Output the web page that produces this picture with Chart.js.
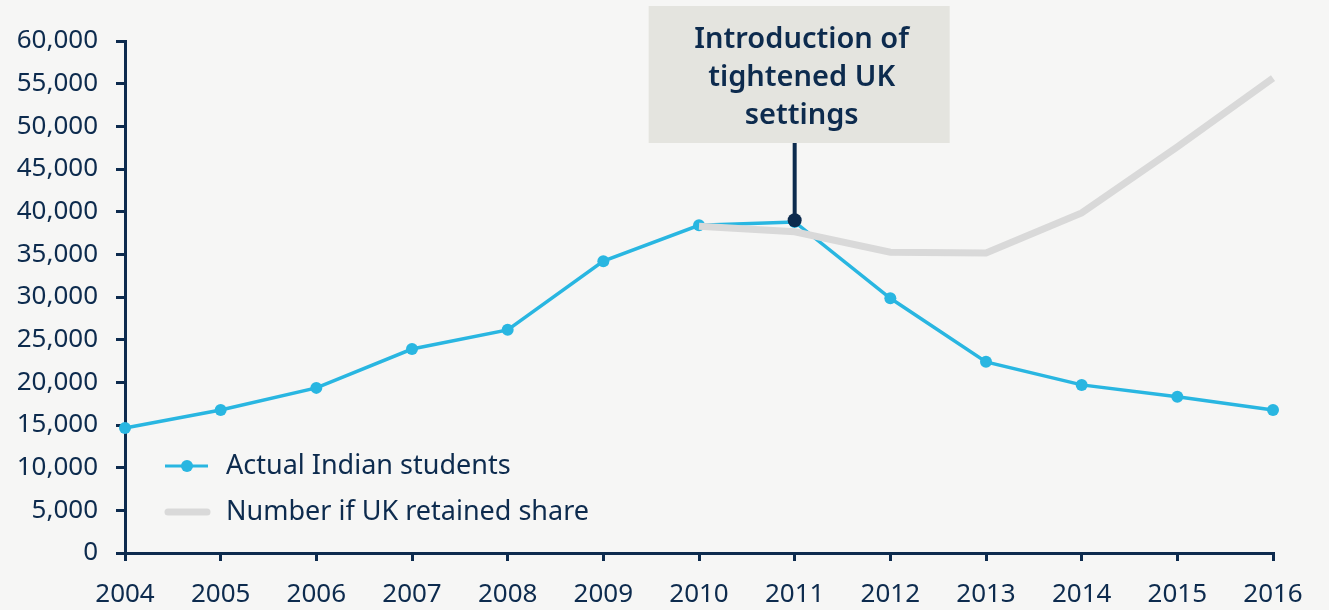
<!DOCTYPE html>
<html lang="en">
<head>
    <meta charset="UTF-8" />
    <title>Indian students in the UK</title>
    <style>
        html, body {
            margin: 0;
            padding: 0;
            background: #f6f6f5;
            overflow: hidden;
        }
        canvas {
            display: block;
        }
    </style>
    <script src="https://cdn.jsdelivr.net/npm/chart.js"></script>
</head>
<body>
    <canvas id="students-chart" width="1329" height="610"></canvas>
    <script>
        const years = ['2004', '2005', '2006', '2007', '2008', '2009', '2010', '2011', '2012', '2013', '2014', '2015', '2016'];
        const actualStudents = [14650, 16750, 19350, 23900, 26150, 34200, 38400, 38800, 29850, 22400, 19700, 18300, 16750];
        const retainedShare = [null, null, null, null, null, null, 38300, 37650, 35250, 35150, 39850, 47600, 55650];
        const yTicks = [0, 5000, 10000, 15000, 20000, 25000, 30000, 35000, 40000, 45000, 50000, 55000, 60000];
        const legendLabels = ['Actual Indian students', 'Number if UK retained share'];
        const noteLines = ['Introduction of', 'tightened UK', 'settings'];
        const noteYear = '2011';
        const noteValue = 39000;

        const navy = '#0d2b4e';
        const blue = '#29b6e1';
        const grey = '#d9d9d9';
        const fontName = "'Noto Sans', sans-serif";

        // callout box + pin, and the legend inside the plot
        const extras = {
            id: 'extras',
            afterDatasetsDraw(chart) {
                const ctx = chart.ctx;
                const area = chart.chartArea;
                const x = chart.scales.x.getPixelForValue(years.indexOf(noteYear));
                const y = chart.scales.y.getPixelForValue(noteValue);

                ctx.save();
                ctx.fillStyle = '#e4e4df';
                ctx.fillRect(x - 146, 6, 301, 137);
                ctx.strokeStyle = navy;
                ctx.lineWidth = 4;
                ctx.beginPath();
                ctx.moveTo(x, 143);
                ctx.lineTo(x, y);
                ctx.stroke();
                ctx.fillStyle = navy;
                ctx.beginPath();
                ctx.arc(x, y, 7, 0, Math.PI * 2);
                ctx.fill();

                ctx.font = '600 29px ' + fontName;
                ctx.textAlign = 'center';
                ctx.textBaseline = 'middle';
                noteLines.forEach((line, i) => {
                    ctx.fillText(line, x + 7, 40 + i * 38);
                });

                // legend
                const lx = area.left + 40;
                const rows = [area.bottom - 87, area.bottom - 41];
                ctx.lineCap = 'butt';
                ctx.strokeStyle = blue;
                ctx.lineWidth = 3;
                ctx.beginPath();
                ctx.moveTo(lx, rows[0]);
                ctx.lineTo(lx + 43, rows[0]);
                ctx.stroke();
                ctx.fillStyle = blue;
                ctx.beginPath();
                ctx.arc(lx + 22, rows[0], 6, 0, Math.PI * 2);
                ctx.fill();
                ctx.strokeStyle = grey;
                ctx.lineWidth = 7;
                ctx.lineCap = 'round';
                ctx.beginPath();
                ctx.moveTo(lx + 3, rows[1]);
                ctx.lineTo(lx + 42, rows[1]);
                ctx.stroke();

                ctx.fillStyle = navy;
                ctx.font = '27px ' + fontName;
                ctx.textAlign = 'left';
                legendLabels.forEach((label, i) => {
                    ctx.fillText(label, lx + 61, rows[i]);
                });
                ctx.restore();
            }
        };

        window.onload = function() {
            const ctx = document.getElementById('students-chart').getContext('2d');
            new Chart(ctx, {
                type: 'line',
                data: {
                    labels: years,
                    datasets: [
                        {
                            label: legendLabels[1],
                            data: retainedShare,
                            borderColor: grey,
                            borderWidth: 7,
                            pointRadius: 0,
                            pointHoverRadius: 0,
                            tension: 0,
                            clip: false,
                            order: 0
                        },
                        {
                            label: legendLabels[0],
                            data: actualStudents,
                            borderColor: blue,
                            backgroundColor: blue,
                            borderWidth: 3.5,
                            pointRadius: 6,
                            pointBorderWidth: 0,
                            pointBackgroundColor: blue,
                            tension: 0,
                            clip: false,
                            order: 1
                        }
                    ]
                },
                options: {
                    responsive: false,
                    animation: false,
                    events: [],
                    layout: {
                        padding: { top: 41, right: 56, left: 0, bottom: 0 }
                    },
                    plugins: {
                        legend: { display: false },
                        tooltip: { enabled: false }
                    },
                    scales: {
                        x: {
                            offset: false,
                            grid: {
                                drawOnChartArea: false,
                                drawTicks: true,
                                tickLength: 8,
                                color: navy,
                                lineWidth: 3
                            },
                            border: { color: navy, width: 3 },
                            ticks: {
                                color: navy,
                                font: { family: fontName, size: 26 },
                                padding: 18,
                                maxRotation: 0,
                                autoSkip: false
                            },
                            afterFit(scale) { scale.height = 57; }
                        },
                        y: {
                            min: 0,
                            max: 60000,
                            afterBuildTicks(scale) {
                                scale.ticks = yTicks.map(v => ({ value: v }));
                            },
                            grid: {
                                drawOnChartArea: false,
                                drawTicks: true,
                                tickLength: 9,
                                color: navy,
                                lineWidth: 3
                            },
                            border: { color: navy, width: 3 },
                            ticks: {
                                color: navy,
                                font: { family: fontName, size: 26 },
                                padding: 18,
                                callback: v => v.toLocaleString('en-US')
                            },
                            afterFit(scale) { scale.width = 125; }
                        }
                    }
                },
                plugins: [extras]
            });
        };
    </script>
</body>
</html>
